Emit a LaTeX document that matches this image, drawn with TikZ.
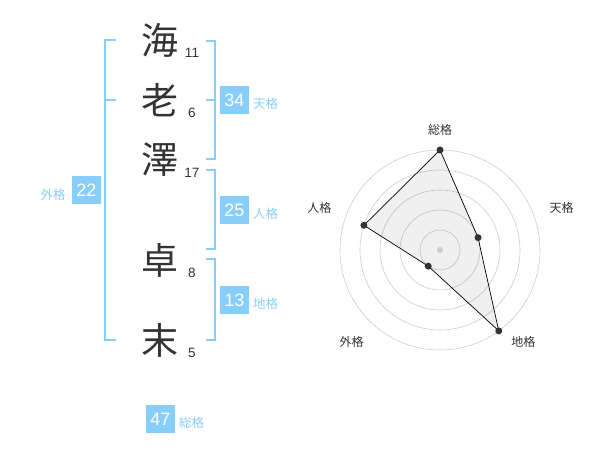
\documentclass[tikz,border=0pt]{standalone}
\usepackage{fontspec}
\setmainfont{Liberation Sans}
\newfontfamily\jpfont{Noto Sans CJK JP}
\usepackage{tikz}
\tikzset{>=latex}
\usetikzlibrary{calc}
\definecolor{skyline}{HTML}{87CEFA}
\definecolor{inkgray}{HTML}{333333}

\begin{document}
\begin{tikzpicture}[x=1pt, y=-1pt,
    kanji/.style={font=\jpfont\fontsize{37}{37}\selectfont, text=inkgray, inner sep=0pt},
    strokes/.style={font=\fontsize{13.5}{13.5}\selectfont, text=inkgray, inner sep=0pt},
    valbox/.style={fill=skyline, text=white, minimum size=28.5pt, inner sep=0pt, font=\fontsize{18}{18}\selectfont},
    kaku/.style={text=skyline, font=\jpfont\fontsize{12.5}{12.5}\selectfont, inner sep=0pt},
    bracket/.style={draw=skyline, line width=2pt},
    ring/.style={draw=black!20, line width=0.6pt},
    axlabel/.style={text=inkgray, font=\jpfont\fontsize{12}{12}\selectfont, inner sep=0pt}]
    \useasboundingbox (0,0) rectangle (600,470);

    % Draw the name, one character per row, with its stroke count
    \foreach \ch/\n/\y/\i in {海/11/40/1, 老/6/100/2, 澤/17/160/3, 卓/8/260/4, 末/5/340/5} {
        \node[kanji] (char\i) at (160,\y) {\ch};
        \node[strokes] (cnt\i) at (192,\y+12.5) {\n};
    }

    % Draw brackets (outer one on the left, three on the right)
    \draw[bracket] (116,40) -- (105,40) -- (105,340) -- (116,340);
    \draw[bracket] (105,100) -- (116,100);
    \foreach \top/\bot in {41/159.3, 170/249.3, 259.3/340} {
        \draw[bracket] (206,\top) -- (215,\top) -- (215,\bot) -- (206,\bot);
    }
    \draw[bracket] (206,100) -- (215,100);

    % Add value boxes and their labels
    \node[valbox] (ten) at (234.3,100.2) {34};
    \node[kaku] (tenlbl) at (265.5,104) {天格};
    \node[valbox] (jin) at (234.3,210.2) {25};
    \node[kaku] (jinlbl) at (265.5,214) {人格};
    \node[valbox] (chi) at (234.3,300.2) {13};
    \node[kaku] (chilbl) at (265.5,304) {地格};
    \node[valbox] (gai) at (86.5,190.2) {22};
    \node[kaku] (gailbl) at (53,194.5) {外格};
    \node[valbox] (sou) at (160.5,419) {47};
    \node[kaku] (soulbl) at (191.7,423) {総格};

    % Radar chart: rings, axis points, polygon
    \coordinate (ctr) at (440,250);
    \foreach \r in {20,40,60,80,100} {
        \draw[ring] (ctr) circle (\r);
    }
    \coordinate (pSou) at ($(ctr)+(-90:100)$);
    \coordinate (pTen) at ($(ctr)+(-18:40)$);
    \coordinate (pChi) at ($(ctr)+(54:100)$);
    \coordinate (pGai) at ($(ctr)+(126:20)$);
    \coordinate (pJin) at ($(ctr)+(198:80)$);
    \draw[black, line width=0.7pt, fill=black, fill opacity=0.06]
        (pSou) -- (pTen) -- (pChi) -- (pGai) -- (pJin) -- cycle;
    \fill[black!20] (ctr) circle (3);
    \foreach \p in {pSou, pTen, pChi, pGai, pJin} {
        \fill[inkgray] (\p) circle (3.5);
    }

    % Axis labels
    \node[axlabel] (axSou) at (440,130) {総格};
    \node[axlabel] (axTen) at (561.7,208.3) {天格};
    \node[axlabel] (axJin) at (319.3,208.3) {人格};
    \node[axlabel] (axGai) at (351.7,341.7) {外格};
    \node[axlabel] (axChi) at (523.3,341.7) {地格};
\end{tikzpicture}
\end{document}
